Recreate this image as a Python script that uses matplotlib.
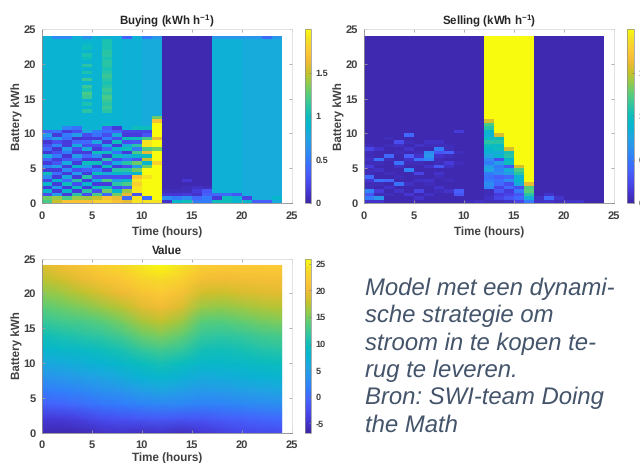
import matplotlib
matplotlib.use("Agg")
import matplotlib.pyplot as plt
import numpy as np
from matplotlib.colors import LinearSegmentedColormap

plt.rcParams['font.family'] = ['Liberation Sans', 'DejaVu Sans']
plt.rcParams['mathtext.fontset'] = 'custom'
plt.rcParams['mathtext.bf'] = 'Liberation Sans:bold'
plt.rcParams['mathtext.rm'] = 'Liberation Sans:bold'
plt.rcParams['mathtext.default'] = 'bf'
plt.rcParams['text.hinting'] = 'no_hinting'

parula_colors = [(0.2422,0.1504,0.6603),(0.2706,0.2147,0.8364),(0.2813,0.3006,0.9414),(0.2699,0.3892,0.9906),
 (0.1963,0.4847,0.9892),(0.1687,0.5703,0.9359),(0.1248,0.6459,0.8883),(0.0297,0.7082,0.8163),(0.0433,0.7411,0.7394),
 (0.1938,0.7758,0.6251),(0.3406,0.8008,0.4789),(0.5616,0.7942,0.3045),(0.7738,0.7598,0.1646),(0.9393,0.7288,0.2100),
 (0.9893,0.7869,0.2079),(0.9597,0.8666,0.1500),(0.9763,0.9831,0.0538)]
parula = LinearSegmentedColormap.from_list("parula", parula_colors)

hours = list(range(25))
battery = [i * 0.5 for i in range(49)]

# ---- Buying: per-hour column, from the bottom row (0-0.5 kWh) upward
buy_background = [.86,.86,.86,.86,.86,.86,.86,.86,.84,.84,.80,.80,.03,.03,.03,.03,.03,.84,.84,.84,.80,.80,.80,.80]
buy_top_row = [.84,.58,.58,.84,.62,.84,.84,.84,.36,.84,.50,.66,.03,.03,.03,.03,.03,.66,.66,.66,.66,.66,.42,.66]
buy_h00 = [1.2,1.3,.25,.9,.15,.9,.2,.6,1.0,.15,.55,.15,.4,.8,.12,.4,.25,.12,.5,.7,.35]
buy_h01 = [1.5,1.4,.7,.15,.7,.15,.9,.15,.45,.15,.7,.3,.15,.5,.25,.12,.55,.25,.7,.15,.45]
buy_h02 = [1.7,1.2,.15,.9,.15,1.0,.4,.8,.15,.6,.15,.8,.3,.12,.5,.7,.15,.15,.45,.5,.15,.55]
buy_h03 = [1.7,1.4,1.1,.15,1.0,.25,1.1,.15,.7,.25,.9,.15,.4,.7,.15,.25,.8,.4,.12,.7,.25,.45]
buy_h04 = [1.7,1.4,.25,1.1,.15,.9,.15,1.1,.15,.35,.7,1.0,.15,.4,.15,.8,.25,.4,.15,.25,.75]
buy_h05 = [1.8,1.5,1.2,.25,1.0,.15,.8,.25,1.0,.5,.15,1.0,.15,.6,1.0,.15,.25,.75,.15,.45,.5]
buy_h06 = [1.8,1.7,.4,1.3,1.0,.15,1.2,.25,.8,.15,1.0,.25,1.1,.15,1.0,.35,.8,.15,.5,.25,.45,.35,.95]
buy_h07 = [1.7,1.6,1.3,.9,.25,1.1,.7,.25,.9,1.1,.15,.8,.25,1.0,.45,.9,.15,1.0,.25,.8,.35,.15]
buy_h08 = [1.6,.4,1.6,1.4,.35,1.2,.9,.25,.8,1.1,.25,1.1,.45,.8,.15,1.0,.8,.25,1.0,.15,.2]
buy_h09 = [1.9,1.9,.3,1.9,1.9,1.8,1.9,1.7,.9,1.3,.7,1.3,.3,.9,1.2,.5,1.1,.3,1.0,.15,.2,1.0]
buy_h10 = [1.9,.4,2.0,2.0,2.0,2.0,2.0,1.9,2.0,2.0,1.3,.9,1.5,1.0,1.6,1.2,1.9,1.9,1.2,.3,.2,1.0]
buy_h11 = [1.9,2.0,2.0,2.0,2.0,2.0,2.0,2.0,2.0,2.0,2.0,1.8,2.0,2.0,2.0,1.3,2.0,2.0,1.6,2.0,2.0,2.0,2.0,1.7,1.3]
buy_low_right = {12: [.1,.6,.12,.05], 13: [.9,.5,.12,.05], 14: [1.0,.6,.15,.05,.05,.03,.12],
                 15: [.5,.4,.1,.15,.08], 16: [.5,.5,.35,.3,.06],
                 17: [1.0,.15,.4], 18: [1.0,1.0,.4], 19: [.9,.85,.3], 20: [.9,.2],
                 21: [.35], 22: [.35], 23: [.8,.9]}
buy_h04_rows = [26,28,30,31,32,33,35,37,39,41,42,44,45]
buy_h04_green = [1.1,1.05,1.15,1.2,1.05,1.15,1.15,1.05,1.1,1.0,1.05,1.0,.95]
buy_h06_green = [1.1,1.15,1.1,1.15,1.2,1.1,1.15,1.1,1.05,1.1,1.15,1.1,1.05,1.1,1.1,1.05,1.1,1.1,1.05,1.05,1.05]
buy_h06_start = 26

# ---- Selling: per-hour column, from the bottom row upward
sell_h00 = [.1,.5,.3,.55,.05,.05,.12,.42,.05,.05,.15,.05,.08,.05,.05,.2,.05]
sell_h01 = [.1,.65,.05,.15,.03,.05,.45,.03,.03,.08,.03,.05,.45,.03,.03,.1]
sell_h02 = [.03,.03,.05,.03,.1,.03,.4,.03,.05,.03,.03,.03,.05,.4,.03,.03,.05,.03,.05]
sell_h03 = [.03,.03,.03,.1,.03,.45,.03,.05,.03,.03,.08,.45,.03,.03,.05,.03,.08,.25]
sell_h04 = [.03,.03,.12,.03,.03,.08,.03,.03,.03,.55,.03,.05,.1,.35,.03,.1,.03,.05,.03,.4]
sell_h05 = [.03,.1,.03,.2,.03,.03,.08,.03,.2,.03,.03,.05,.45,.1,.05,.03,.08]
sell_h06 = [.03,.03,.08,.03,.03,.05,.1,.03,.03,.03,.1,.03,.55,.65,.6,.03,.05,.08]
sell_h07 = [.03,.03,.03,.05,.1,.03,.03,.05,.1,.03,.3,.05,.05,.1,.3,.5,.05,.08]
sell_h08 = [.03,.03,.03,.1,.03,.03,.05,.03,.03,.03,.08,.15,.03,.05,.35,.05,.05]
sell_h09 = [.03,.03,.3,.35,.03,.03,.03,.03,.03,.03,.03,.05,.03,.03,.05,.03,.03,.03,.03,.03,.15]
sell_h10 = [.05]
sell_h11 = [.08]
sell_h12 = [.05,.08,.05,.05,.55,.6,.5,.45,.5,.75,.7,.5,.6,.75,.85,.9,1.0,1.1,.95,.85,.9,1.1,1.2,1.55]
sell_h13 = [.06,.2,.15,.3,.2,.4,.45,.35,.6,.55,.5,.7,.25,.9,.8,1.0,.95,1.1,1.0,1.55]
sell_h14 = [.08,.3,.2,.15,.4,.25,.6,.4,.7,.8,.3,1.0,.9,1.1,1.05,1.55]
sell_h15 = [.2,.4,.3,.5,.25,.8,.9,.85,1.1,1.2,1.55]
sell_h16 = [.5,.8,1.1,1.25,1.2,1.6]
sell_low_right = {17: [.08,.08], 18: [.1,.4,.1], 19: [.06,.1], 20: [.08], 21: [.1,.03], 22: [.03], 23: [.02]}

# ---- Value: read at battery levels 0, 2, ..., 24 and hours 0, 2, ..., 24
val_hours = [0,2,4,6,8,10,12,14,16,18,20,22,24]
val_levels = [0,2,4,6,8,10,12,14,16,18,20,22,24]
val_kwh00 = [-6.0,-6.3,-6.0,-5.2,-5.0,-5.3,-5.0,-5.6,-4.6,-3.8,-3.0,-2.8,-2.5]
val_kwh02 = [-4.4,-4.3,-3.6,-2.6,-2.0,-1.6,-1.3,-1.6,-1.6,-1.0,-.6,-.3,0.0]
val_kwh04 = [-.8,-.4,.3,1.0,1.6,2.2,2.6,2.4,2.0,2.2,2.6,3.0,3.2]
val_kwh06 = [1.5,2.0,2.6,3.4,4.0,5.0,5.6,5.0,4.4,4.6,5.0,5.4,5.8]
val_kwh08 = [3.8,4.4,5.0,5.6,6.4,7.4,8.0,7.2,6.4,6.6,7.0,7.4,7.8]
val_kwh10 = [6.0,6.4,7.0,7.6,8.4,9.6,10.4,9.6,8.4,8.4,8.8,9.2,9.6]
val_kwh12 = [8.0,8.6,9.0,9.8,10.6,12.0,12.8,12.0,10.2,10.0,10.4,11.0,11.4]
val_kwh14 = [10.0,10.6,11.2,11.8,12.8,14.4,15.2,14.2,12.0,11.6,12.0,12.6,13.0]
val_kwh16 = [12.0,12.6,13.0,13.8,15.0,16.8,17.6,16.4,13.8,13.6,14.2,14.8,15.2]
val_kwh18 = [13.8,14.4,15.2,16.2,17.4,19.2,20.0,18.8,16.2,15.8,16.4,17.0,17.2]
val_kwh20 = [15.6,16.4,17.4,18.6,19.8,21.2,21.8,20.8,18.4,18.0,18.6,19.0,19.2]
val_kwh22 = [17.4,18.4,19.6,21.0,21.6,23.0,23.6,22.6,20.6,20.2,20.4,20.6,20.6]
val_kwh24 = [19.0,20.4,21.4,22.6,23.2,24.6,25.8,24.2,22.4,22.0,22.0,22.0,22.0]

title_buy = r"Buying (kWh h$^{-1}$)"
title_sell = r"Selling (kWh h$^{-1}$)"
title_val = "Value"
cbar_ticks_energy = [0, 0.5, 1, 1.5]
cbar_labels_energy = ["0", "0.5", "1", "1.5"]
cbar_ticks_value = [-5, 0, 5, 10, 15, 20, 25]
axis_ticks = [0, 5, 10, 15, 20, 25]
note_lines = ["Model met een dynami-", "sche strategie om", "stroom in te kopen te-",
              "rug te leveren.", "Bron: SWI-team Doing", "the Math"]

# ---- Assemble the grids
buy = np.array([buy_background] * 48, dtype=float)
buy[47] = buy_top_row
for h, col in enumerate([buy_h00,buy_h01,buy_h02,buy_h03,buy_h04,buy_h05,buy_h06,buy_h07,buy_h08,buy_h09,buy_h10,buy_h11]):
    buy[:len(col), h] = col
for h, col in buy_low_right.items():
    buy[:len(col), h] = col
buy[buy_h04_rows, 4] = buy_h04_green
buy[buy_h06_start:buy_h06_start + len(buy_h06_green), 6] = buy_h06_green

sell = np.full((48, 24), 0.03)
sell[:, 12:17] = 2.0
for h, col in enumerate([sell_h00,sell_h01,sell_h02,sell_h03,sell_h04,sell_h05,sell_h06,sell_h07,sell_h08,
                         sell_h09,sell_h10,sell_h11,sell_h12,sell_h13,sell_h14,sell_h15,sell_h16]):
    sell[:len(col), h] = col
for h, col in sell_low_right.items():
    sell[:len(col), h] = col

value = np.array([val_kwh00,val_kwh02,val_kwh04,val_kwh06,val_kwh08,val_kwh10,val_kwh12,
                  val_kwh14,val_kwh16,val_kwh18,val_kwh20,val_kwh22,val_kwh24])

W, H = 640, 463
fig = plt.figure(figsize=(W/100, H/100), dpi=100)
def rect(x0, y0, x1, y1):
    return [x0/W, 1 - y1/H, (x1-x0)/W, (y1-y0)/H]

TXT = "#404040"
def style(ax, title, xlabelpad):
    ax.set_xlim(0, 25); ax.set_ylim(0, 25)
    ax.set_xticks(axis_ticks); ax.set_yticks(axis_ticks)
    ax.tick_params(direction='in', length=2.5, width=0.6, color="#a0a0a0", labelsize=8.0,
                   labelcolor=TXT, top=True, right=True)
    ax.tick_params(axis='x', pad=5.5)
    ax.tick_params(axis='y', pad=4)
    for lab in ax.get_xticklabels() + ax.get_yticklabels():
        lab.set_fontweight('bold')
    for s in ('top', 'right'):
        ax.spines[s].set_color("#dedede"); ax.spines[s].set_linewidth(0.6)
    for s in ('left', 'bottom'):
        ax.spines[s].set_color("#8c8c8c"); ax.spines[s].set_linewidth(0.6)
    ax.set_xlabel("Time (hours)", fontsize=8.4, fontweight='bold', color=TXT, labelpad=xlabelpad)
    ax.set_ylabel("Battery kWh", fontsize=8.4, fontweight='bold', color=TXT, labelpad=0.8)
    ax.set_title(title, fontsize=8.3, fontweight='bold', color="#262626", pad=3.5)

def cbar(mappable, box, ticks, labels):
    cax = fig.add_axes(rect(*box))
    cb = fig.colorbar(mappable, cax=cax)
    cb.set_ticks(ticks, labels=labels)
    cb.ax.tick_params(direction='in', length=1.5, width=0.5, color="#808080", labelsize=6.6,
                      labelcolor=TXT, pad=3.5)
    for lab in cb.ax.get_yticklabels():
        lab.set_fontweight('bold')
    cb.outline.set_edgecolor("#8c8c8c"); cb.outline.set_linewidth(0.5)

ax1 = fig.add_axes(rect(41.7, 29, 291.7, 203))
m1 = ax1.pcolormesh(hours, battery, buy, cmap=parula, vmin=0, vmax=2, shading='flat')
style(ax1, title_buy, 4.0)
cbar(m1, (304.5, 29, 311, 203), cbar_ticks_energy, cbar_labels_energy)

ax2 = fig.add_axes(rect(363.7, 29, 613.7, 203))
m2 = ax2.pcolormesh(hours, battery, sell, cmap=parula, vmin=0, vmax=2, shading='flat')
style(ax2, title_sell, 4.0)
cbar(m2, (626.5, 29, 634, 203), cbar_ticks_energy, cbar_labels_energy)

ax3 = fig.add_axes(rect(41.7, 258.5, 291.7, 432.5))
m3 = ax3.pcolormesh(val_hours, val_levels, value, cmap=parula, vmin=-6.7, vmax=26, shading='gouraud')
style(ax3, title_val, 1.5)
cbar(m3, (304.5, 258.5, 311, 432.5), cbar_ticks_value, [str(t) for t in cbar_ticks_value])

for i, line in enumerate(note_lines):
    fig.text(365/W, 1 - (295 + i*27.3)/H, line, fontsize=17.2, style='italic',
             color="#44546A", ha='left', va='baseline')

fig.savefig("out.png", dpi=100)
